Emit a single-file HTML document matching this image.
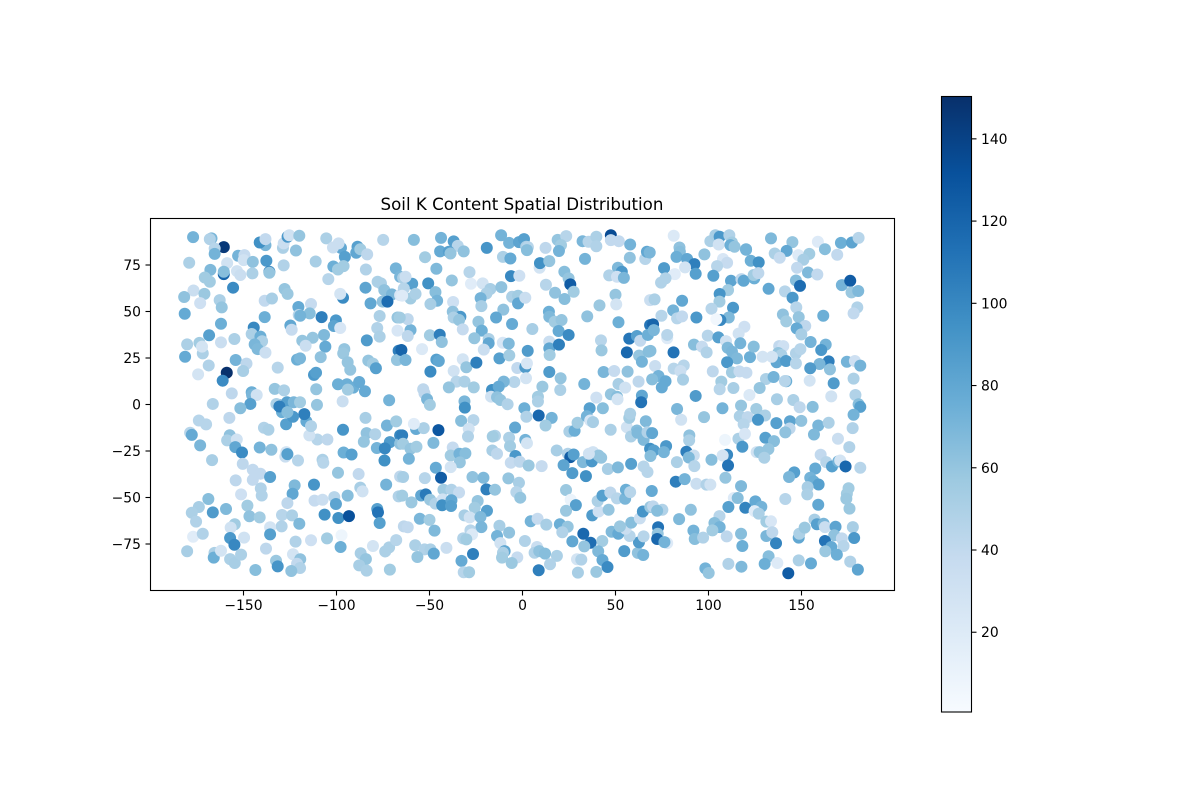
<!DOCTYPE html>
<html lang="en">
<head>
<meta charset="utf-8">
<title>Soil K Content Spatial Distribution</title>
<style>
html,body{margin:0;padding:0;background:#fff;}
svg{display:block;}
text{font-family:"DejaVu Sans","Liberation Sans",sans-serif;fill:#000;}
</style>
</head>
<body>
<svg id="chart" xmlns="http://www.w3.org/2000/svg" width="1200" height="800" viewBox="0 0 1200 800">
  <defs>
    <linearGradient id="blues" x1="0" y1="1" x2="0" y2="0">
      <stop offset="0" stop-color="#f7fbff"/>
      <stop offset="0.125" stop-color="#deebf7"/>
      <stop offset="0.25" stop-color="#c6dbef"/>
      <stop offset="0.375" stop-color="#9ecae1"/>
      <stop offset="0.5" stop-color="#6baed6"/>
      <stop offset="0.625" stop-color="#4292c6"/>
      <stop offset="0.75" stop-color="#2171b5"/>
      <stop offset="0.875" stop-color="#08519c"/>
      <stop offset="1" stop-color="#08306b"/>
    </linearGradient>
  </defs>
  <text x="522" y="210" font-size="16.67" text-anchor="middle">Soil K Content Spatial Distribution</text>
  <g id="points"></g>
  <rect x="150.5" y="218.5" width="744" height="372" fill="none" stroke="#000" stroke-width="1.1"/>
  <g id="xticks"></g>
  <g id="yticks"></g>
  <rect x="941.5" y="96.5" width="30" height="615.5" fill="url(#blues)" stroke="#000" stroke-width="1.1"/>
  <g id="cticks"></g>
</svg>
<script>
const xTickValues = [-150,-100,-50,0,50,100,150];
const yTickValues = [-75,-50,-25,0,25,50,75];
const colorbarTickValues = [20,40,60,80,100,120,140];
const kMin = 0.6;
const kMax = 150.3;

const lonA = [-177.1,-167.2,-168.1,-160.6,-165.5,-165.5,-179.2,-152.9,-149.5,-158.8,-149.9,-145,-137.7,-138.2,-141.3,-138.2,-128.8,-128.4,-126.3,-125.4,-120,-121.8,-128.4,-111.2,-105.5,-97.6,-101.9,-98.9,-88.7,-89.4,-87.2,-83.5,-95.5,-101.7,-96.2,-99.2,-84.2,-74.9,-68.1,-104.4,-167.8,-160.6,-160.6,-153.5,-151.7,-145.2,-136.1,-136.1,-170.8,-168.1,-155.6,-77.9,-76.1,-84.4,-74.3,-70.2,-65.8,-176.9,-181.9,
-171,-173.3,-162.8,-161.7,-181.6,-138.6,-134.7,-127.9,-126.3,-120.5,-113.7,-120.3,-114.4,-119.5,-138.6,-162.1,-108,-100.3,-101.4,-98,-96.5,-98,-81.7,-75.2,-72.6,-65.8,-76.8,-67.2,-78.1,-144.5,-145.6,-124.8,-124.1,-106.7,-168.5,-154.9,-140.9,-140,-144,-142.4,-138.2,-118.4,-112.8,-116.6,-83.7,-76.8,-67.2,-180.3,-173.7,-171.9,-162.1,-172.3,-181.4,-106,-95.8,-96.4,-108.5,-121.2,-119.6,-94,-92.6,-82.9,-80.4,-78.8,-66.6,-67.5,-154.2,-148.4,-150.2,-168.7,-131.6,-174.4,-159,-161.2,-112.1,-111,-99.2,-94.4,-91,-87.8,-93.9,-84.7,-110.9,-133.2,-128.2,-145.6,-145.4,-142.9,-156.3,-166.5,-146.3,-151.7,-96.7,-71.7,-131.1,-126.6,-123,-119.6,-110.5,-132.3];
const latA = [90,89.3,88.9,84.6,83.9,81,76.2,80,80.3,76,77.6,76.7,77.3,85.7,87.1,88.9,84.2,86.6,90.2,91,90.7,82.8,74.8,76.9,89.3,84.2,84.4,86.6,84.8,81.6,83.5,80.7,79.4,74.2,74.4,72.6,72.6,88.5,73.2,67.4,72.4,70.1,71.4,71.7,69.6,70.5,71.4,70.8,68.3,66,62.8,66,65.1,62.8,61.5,59.2,68.7,61.3,57.8,
59.5,54.5,56.1,52.2,48.8,55.8,57,62.1,59.5,52.4,54,48.1,49,47.7,47,43.4,47,45.2,42.2,41.1,57.4,59.5,54.4,55.3,55.3,58.8,47.6,46.8,41.1,41.3,37.9,42.5,40.2,37.4,37.2,35.2,36.5,34,32.3,29.8,27.9,34.3,35.9,31.6,34.5,36.5,39.7,32.3,33.1,27.5,33.4,31.1,25.7,31.1,29.8,27.5,25.5,24.1,24.8,22.7,18.7,23.6,22,19.5,28.9,23.9,23.9,22,18,21,19.8,16.2,17.1,12.8,15.9,17.1,10.9,10.9,9.1,12.1,8,7.1,8.2,8.4,7.6,6.6,5.1,5.1,6,0.3,0.3,-2,1.7,2.3,-0.2,1.2,1.2,1.2,-0.2,0.3];
const kA = [72,70,48,145,45,72,50,72,38,30,30,62,90,70,95,40,50,35,90,30,60,62,48,52,50,80,35,35,85,80,55,42,85,75,55,55,48,45,72,45,68,120,65,30,35,50,100,60,55,55,98,50,50,82,62,70,70,35,62,
58,32,50,60,78,40,52,60,58,78,38,45,65,72,75,75,105,90,82,25,98,28,80,62,115,25,50,60,48,100,50,80,38,68,85,50,75,50,70,68,33,60,60,35,88,50,25,50,55,50,35,28,78,78,60,58,62,75,70,60,60,60,55,85,105,60,72,42,52,48,45,28,150,98,90,85,75,75,75,78,55,78,60,60,50,75,70,30,42,48,85,65,35,72,90,85,70,55,60,50];

const lonB = [-58.4,-43.8,-37,-34.8,-44.3,-39.6,-38.7,-31.6,-52.4,-46.3,-19.2,-11.5,-7.2,-1.9,0.8,2,2.9,2.4,-10.5,-6.5,12.4,18.9,23.5,20.7,19.6,32.3,35.5,39.7,39.7,47.5,47.5,51.8,57.9,57.7,66,66.9,9.2,9.4,14.4,33.6,-28.5,-38,-27.7,-21.4,-50.7,-59.3,-64.2,-62.9,-46.8,-45.9,-49.5,-60.2,-57.5,-63.8,-64.7,-6.2,-1.7,22.5,24.8,25.7,27.5,12.6,17.5,22.6,51.3,53.4,46.6,50.8,54.5,-17.3,-19.4,-22.5,-22.1,-11.4,-5.6,-2.4,-2.4,1.5,-37.3,-37.5,-33.4,-37,-34.1,-10.3,-14.2,41.4,50,50.4,34.8,51.6,68.6,14.2,14.4,17.3,21,19.4,24.8,14.4,14.4,19.6,14.6,5.3,-5.6,-23.7,-32.1,-21.9,-25.9,-18.2,-18.2,-49.8,-44.5,-43.4,-60.2,-61.7,-66,-61.7,-54,-10.6,-7.4,-20.8,2.8,-12.4,-7.1,-65.1,-62.9,-46.3,-45,-32.1,-30.2,-24.8,-49.5,-37,-2.8,1.5,2.4,14.4,20.5,1.9,-4.4,-10.1,10.7,20.3,33.2,43.6,49.3,56.5,62.4,51.6,55.2,47.5,50.8,51.1,64.2,63.8,39.7,36.1,43.2,56.1,57.4,61.5,63.3,68.6,67.4,42.2,42.5,62.7,64.2,67.8,-35.5,-31.2,-39.6,-26.2,-53.4,-52.7,-51.3,-49.8,-31.2,-31,-16.4,-12.8,-16.9,-13.7,-11.9,-8,8.3,8.3,1];
const latB = [88.5,89.6,87.7,85.3,82.3,82.1,81.2,82.3,79.2,73,84.2,91,86.9,87.3,88.9,84.8,84.6,83,79.4,78.5,84.2,88.5,90.5,85.7,82.5,87.8,87.5,90.2,85.1,91,88.4,87.8,86,78.9,78.2,82.1,73.5,76,77.1,78.3,71.2,66.7,64.9,65.1,65.1,64.9,68.1,68.7,60.4,55.8,54,57,59.5,62.4,58.5,69,69.2,71.4,67.8,64.6,60.6,64.4,60.1,56.7,73.5,71.4,69.4,68.7,68.1,62.1,59.7,57.2,52.9,63.1,57.9,58.5,54.4,57.4,55.1,49.9,47.2,46.8,45.4,51,46.8,53.3,59,53.8,47.4,44.2,56.1,49.9,47.2,44.5,45.4,39.5,37.4,33.8,30.2,32.2,26.6,40.6,43.3,44.5,40.4,39.7,35.6,35.2,32.9,37.2,37.5,33.6,40,45.9,46.7,36.8,29.8,33.2,32.7,29.5,28.8,24.8,26.4,29.3,23.9,24.1,23.4,24.3,20,22.5,17.7,18,19.6,20,22.1,17.5,14.1,14.1,12.1,12.3,9.6,7.8,11,17.5,18,17.7,12.3,11,9.1,5.5,4.2,2.8,4.8,1.2,3.7,-2,-2,28,35.4,36.8,34.3,42.7,37.4,34.5,29.1,26.3,23,28.4,12.3,12.3,9.2,9.2,8.2,6,2.8,-0.2,1.7,-1.7,7.8,9.6,4.2,3.9,2.4,0.1,4.2,1.6,-2];
const kB = [65,72,85,45,78,85,60,62,55,68,92,72,72,82,85,50,45,65,50,78,42,60,45,55,72,70,45,50,48,135,40,40,72,62,45,80,28,95,60,72,45,60,18,28,95,85,50,35,65,72,52,55,50,45,20,100,32,65,60,125,55,45,62,65,68,90,48,32,70,52,50,72,52,62,50,55,80,35,32,62,90,50,60,62,80,58,60,28,62,75,35,75,68,55,60,78,98,35,80,105,55,52,78,60,38,75,60,50,80,55,105,62,72,42,55,42,22,25,68,35,88,85,55,120,70,85,80,28,60,105,98,30,40,88,25,88,60,28,45,70,58,50,72,70,38,62,42,52,30,60,65,28,80,112,32,85,65,118,110,85,40,110,75,45,58,60,72,65,45,50,60,55,42,42,70,55,70,95,95,78,30,62,60,48,55,50,75];

const lonC = [81.3,84.4,84.6,82.8,88.5,92.4,87.4,93.1,76.1,81.9,76.9,74.5,71,85.8,81,74.7,83.1,85.8,93.5,70.2,70.6,68.4,97.8,101,103.7,106,105.5,111.2,112.6,111.8,114,120.2,120.2,107.8,110,104.6,122.7,127,102.6,112.1,118.6,117.7,118.9,124.6,124.3,126.8,110.5,106,105.9,101.6,113.2,110.9,106.4,104.2,119.3,116.2,99.6,105.3,109.4,92.2,96.5,99,110.3,117.1,112.6,115.3,110,122.3,124.3,129.1,133.6,145.1,142,135.6,138.3,148.3,154.2,151,147.6,153.5,158.5,158.8,162.6,169.2,171.2,177.1,180.7,147,149.2,132.3,141.1,145.2,147.2,171.7,176.2,176.9,180.5,161.7,180,178,140,141.8,148.5,152,147.4,149.9,154.9,163,160.6,164.6,159.7,165.3,154.7,174.4,178.7,181.6,138,140.2,137.5,139.2,136.6,141.7,147,149.4,147,134.1,81.2,77.8,77.8,68.8,71.3,81.3,86.7,84.9,102.3,112.6,116.6,120.4,73.1,76.9,86.3,74.9,69.7,106.9,106,113.4,122,130.9,135,127.5,141.8,141.1,154.4,167.3,178,93.1,136.8,145.6,149,156,166,179,180.7,181.6,83.1,107.5,117.5,125.7];
const latC = [90.7,84.4,82.1,79.4,78.2,75.5,73.7,70.3,73.3,70.1,67.8,65.5,56.5,55.8,50.6,47.7,46.3,47.4,46.8,43.1,40,81.7,80.7,87.8,91,90.2,86,91,87.1,85.7,84.8,83.2,83.5,78.2,76.2,74.4,77.3,76.4,69.2,66.5,66.7,67.4,66.5,67.8,69.6,70.6,61.5,59.4,55.3,51.5,52,46.8,45.4,45.8,41.8,38.1,37,36.1,34.1,32.2,31.1,28,30.5,32.9,28.4,24.8,22.7,25.5,31.1,25.7,89.3,87.3,82.6,81.2,78.9,80.3,81,77.8,73.5,71,69.9,87.5,83.5,80.5,86.9,87.1,89.6,66.7,63.8,62.2,60.8,57.4,52.2,64.2,66.5,60.3,61,47.7,52.2,49,48.4,44.7,47,42.2,40.9,37.7,33.6,32.2,29.3,23.2,21.8,18.9,19.5,23,23.4,20.9,31.4,31.4,27.7,26.6,22.7,23.4,27.5,29.8,22.1,25.7,28,35.6,37.4,28.8,20.7,19.3,21,18,17.8,17.3,17.8,17.1,15.3,12.5,13.4,9.2,13.5,12.3,8.2,8.9,5.1,13.7,14.8,8.9,12.5,12.6,12.8,11.4,13.9,4.6,2.8,2.4,-1.5,-1.3,4.4,5.1,0.1,-1.3,-2.4,-2,-0.6,-2.4];
const kC = [22,62,65,75,80,105,28,85,88,18,48,48,50,80,72,45,45,40,90,120,70,70,62,50,52,90,30,48,55,75,60,75,72,25,38,45,75,95,85,82,60,42,80,75,55,42,55,92,55,45,90,68,100,5,32,30,45,85,30,65,38,48,68,72,70,68,90,75,65,28,68,60,80,50,38,20,55,52,40,68,40,20,65,40,75,82,45,65,115,80,45,90,45,72,125,58,68,75,48,40,62,55,60,42,78,52,72,72,90,105,70,62,88,72,32,72,40,32,60,50,80,88,48,45,45,28,112,20,45,65,35,45,45,35,42,55,38,38,72,78,52,78,65,55,45,52,22,50,72,60,75,45,28,88,50,88,52,50,42,65,30,48,65,85,70,72,60,55];

const lonD = [-174,-170.1,-178.7,-177.8,-173.3,-157.6,-157.4,-158.8,-153.6,-154.4,
-150.8,-166.9,-150.4,-139,-136.6,-141.3,-135,-127,-127.5,-126.4,
-120.7,-145,-140.9,-145,-154.2,-135.7,-151.3,-140.7,-140.2,-122.5,
-123.6,-112.1,-126.4,-168.9,-174,-177.8,-166.5,-159.4,-147.9,-175.5,
-146.8,-141.3,-129.3,-123.9,-120,-129.5,-154.7,-156.9,-135.7,-135.7,
-177.1,-171.9,-157.2,-154.9,-149.7,-180.3,-165.6,-166,-162.1,-157.2,
-154.7,-151.3,-137.9,-122,-123.4,-119.5,-132.5,-131.6,-121.2,-119.6,
-124.3,-143.6,-113.7,-105.1,-97.3,-97.8,-80.4,-73.8,-71.7,-67.9,
-87,-84.2,-87.8,-83.8,-71.3,-111.8,-107.5,-101.2,-100.3,-94,
-106.4,-99,-93.3,-78.1,-77.7,-76.8,-88.1,-87.2,-86,-99.2,
-73.3,-65.8,-66.6,-107.5,-107.1,-96.2,-91.9,-96.5,-110.3,-104.9,
-114.6,-116.2,-113.7,-117.3,-127.1,-123.4,-129.3,-130.7,-126.4,-84.4,
-72.9,-67.9,-83.8,-79.2,-85.3,-78.3,-71.3,-74,-74.2,-65.8,
-65.8];
const latD = [-8.6,-10.7,-15.2,-16.3,-22,-7.2,-16.5,-19.3,-18.8,-22.9,
-25.8,-29.9,-31.9,-12.5,-13.6,-23.1,-24.3,-25.6,-28,-26.7,
-30.1,-35.1,-37.2,-40.5,-40.8,-39,-48.3,-45.1,-48.9,-43.5,
-48,-43.1,-53,-50.8,-55.1,-58.2,-58,-56.2,-54.4,-63,
-60.1,-60.7,-59.4,-59.6,-64.1,-65.5,-64.4,-66.2,-66,-69.8,
-71.1,-69.5,-71.8,-75.4,-71.6,-78.9,-79.8,-82.3,-78.6,-83.1,
-85.2,-80.7,-77.5,-73.7,-80.5,-83.2,-84,-87,-85.6,-87.9,
-89.5,-89,-73,-72,-70.3,-76.6,-76.1,-79,-76.8,-72.9,
-80,-83.1,-86.5,-89.3,-88.8,-51.7,-51.2,-49.8,-53.5,-49,
-59.2,-61,-60,-56.2,-58,-63.7,-37.4,-44.7,-46.7,-36.7,
-43.1,-38.7,-49.4,-29.7,-31.3,-25.8,-26.9,-13.6,-18.8,-18.8,
-16.6,-9.1,-11.6,-5.2,-10.6,-6.6,-4.1,-1.1,-4.1,-7.2,
-11.3,-9.1,-15.4,-16,-20,-23.4,-20.2,-23.6,-30.1,-16.6,
-21.1];
const kD = [45,45,45,78,70,42,62,50,30,80,
98,52,42,48,50,72,62,28,35,85,
45,40,40,40,42,85,32,48,48,68,
80,92,42,65,52,50,88,68,55,48,
62,55,45,50,68,48,55,30,28,85,
18,48,90,100,30,52,50,75,28,50,
52,50,42,48,28,62,58,92,40,48,
62,65,32,55,8,75,28,50,50,45,
52,60,52,50,55,38,35,45,82,65,
95,95,132,85,112,85,40,52,30,60,
72,42,48,50,45,75,85,92,45,42,
30,78,48,105,85,90,75,105,65,52,
72,55,62,48,60,72,88,100,95,100,
62];

const lonE = [2.1,8.7,15.7,12.4,-4,-33,-26.4,-28.9,-29.3,-57.2,
-53.1,-58.4,-45.2,-64.7,-64.2,-60.2,-57,-61.1,-47.9,-14.8,
-16,-7.2,1.5,2.4,-6.7,-16.2,-13.7,-3.8,-6.3,-1.5,
3.3,10.3,-37.5,-38.6,-33.9,-30.7,-33.7,-38.6,-46.6,-43.8,
-64.2,-52.5,-26.9,-21,-7.6,-1.9,-19.4,-14.8,-3.3,-1.2,
-42.5,-38.2,-34.1,-54.5,-52,-49.7,-46.8,-42.9,-43.2,-38.2,
-38.4,-64.7,-59.7,-24.1,-25.7,-19.1,-31.2,-28.4,-22.6,-22.1,
-55.2,-50,-47.3,-63.8,-61.7,-28,-31.9,-27.1,-30.2,-12.4,
-13.7,-7.2,-11.9,1.3,-57.7,-52.7,-49.5,-47.7,-40.9,-56.5,
-32.8,-26.6,-9.6,-10.5,-11,-2.8,-5.8,-31.6,-28.7,8.7,
7.8,6.5,9,12.1,18.5,14.8,4.4,8.1,12.8,20.1,
24.3,21.4,32.7,36.6,33.2,26.8,42.9,40.7,43,45.7,
54.7,62,64.9,62.6,65.1,57.6,47.9,51.5,55.4,52.4,
58.5,63.1,64.7,68.7,29.3,31.6,29.8,39.7,23.4,25.9,
28.7,23.4,37.5,40.9,46.3,40.4,43,47.2,50.8,55.2,
55.6,57.9,18.4,24.4,25.7,27.5,22.1,26.8,34.1,32.5,
37.3,37.9,40.9,42.3,35.7,45.9,51.3,58.4,65.1,67.2,
25.2,28,29.6,34.6,36.4,37.9,47.4,56.1,57.4,57.9,
66.3,61.5,58.3,61.8,65.1,67.2,68.6];
const latE = [-6.6,-5.9,-7.2,-11.3,-12.4,-8.8,-8.4,-13.1,-17.2,-13.2,
-12.7,-10.4,-13.8,-16.6,-21.1,-23.8,-22.7,-29.2,-20.6,-16.8,
-17.2,-17.9,-19,-20.8,-22.4,-24.7,-26.5,-27.7,-31.3,-30.8,
-32.8,-33.1,-23.1,-27.4,-26.5,-26.3,-31.1,-33.7,-34,-39.4,
-39,-39.6,-39,-39.4,-39.7,-42.1,-45.6,-45.8,-47.1,-50.1,
-45.8,-45.8,-47.3,-48.9,-48.3,-51.2,-53.3,-51,-54.2,-51.5,
-54.6,-49,-52.6,-51.9,-55.5,-57.1,-59.6,-60.7,-60.5,-65.9,
-61.4,-62,-67.8,-65.5,-66,-67.7,-72,-69.8,-72.5,-65.2,
-70.7,-68.9,-74.5,-73.4,-75.7,-77.9,-77.9,-80.2,-77.1,-82,
-84.1,-80.4,-78.8,-79.7,-82.3,-82.2,-85.2,-90.2,-90.2,-89.1,
-76.6,-79.7,-78.8,-80.2,-81.4,-85.9,-62.8,-61.4,-64.6,-64.4,
-65.7,-68.7,-69.5,-74.3,-76.3,-73.6,-73.4,-78.9,-83.6,-87.4,
-78.8,-79.8,-80.9,-74.1,-70.9,-70.7,-68.4,-69.5,-66.8,-65.5,
-63.5,-61.2,-57.5,-55.1,-83.2,-83.4,-90.4,-90,-46,-51.2,
-54.1,-57.1,-59.6,-57.5,-56.6,-51.9,-49,-47.3,-50.5,-50.7,
-45.8,-47.1,-24.7,-26.5,-28.3,-26.9,-32.6,-36.9,-38.5,-31,
-30.6,-25.6,-27.4,-28.6,-26.5,-34.7,-33.8,-31.9,-33.3,-36.3,
-14.5,-14.1,-9.8,-6.3,-8.6,-9.5,-13.6,-12.2,-7.2,-5,
-9,-14,-17.2,-15.2,-19,-14.9,-23.8];
const kE = [48,118,72,55,80,65,45,30,48,78,
50,18,128,105,55,60,55,72,68,48,
55,50,72,28,55,52,42,90,38,42,
58,38,38,55,72,65,60,28,78,125,
52,45,62,68,60,52,105,60,45,60,
55,48,38,80,108,58,48,30,95,80,
85,55,58,60,55,85,52,30,68,70,
70,55,68,42,40,45,48,22,55,52,
72,62,30,48,50,48,50,80,35,60,
78,105,80,50,55,38,58,45,55,105,
35,48,62,65,50,48,72,38,52,75,
60,48,118,115,60,80,55,68,78,98,
88,62,72,88,45,45,68,78,35,58,
65,35,92,58,28,48,52,58,58,10,
85,58,88,32,60,50,85,42,45,70,
75,45,52,48,125,85,82,88,95,68,
90,30,60,60,30,52,68,85,45,45,
50,75,55,72,25,52,50,30,55,50,
68,65,50,68,68,48,95];

const lonF = [85.3,97.6,116.8,121.1,130.4,126.6,118.9,136.5,143.8,149.9,
143.6,141.3,159,164.6,156.7,178,177.5,169.6,175.7,69.7,
89.7,89.6,108.9,116.1,119.6,118.2,130.6,135.2,132.2,125.9,
127.5,130,70.6,77.2,76,68.8,83,88.1,92.1,89.4,
92.4,101.6,110,107.6,110.5,160.3,163.3,166.4,169.8,170.8,
173.7,181.6,157.4,146.1,143.3,154.7,156.5,159.2,153.3,153.1,
175.3,174.4,174.1,175.8,82.4,87.2,93.5,98.9,101,109.1,
117.5,69.5,141.3,159,113.6,115.7,125.2,128.4,110.7,119.8,
124.8,127,70.2,75.2,72.4,90.5,84.2,105.9,103.2,106,
102.1,72.9,72.7,72.4,77.8,76.3,91.9,92.6,97.1,109.8,
117.5,118.2,131.1,133.6,131.1,134.3,136.3,148.5,148.8,151.7,
157,158.3,161.9,162.6,168.3,167.6,171.7,172.6,177.6,178.3,
162.6,166,162.8,169,132.3,130.2,137,148.5,155.1,176.2,
180.3,142.9,98.3,100.1,110.7,117.7];
const latF = [-8.2,-6.8,-6.3,-6.8,-5.9,-8.2,-10.6,-10,-9,-8.8,
-12.9,-15,-11.3,-9.8,-16.1,-5.5,-12.7,-18.4,-22.9,-15.4,
-16.6,-19.3,-19,-18.4,-15.8,-22.7,-17.9,-19.7,-24,-25.6,
-25.6,-28.6,-24.7,-22.4,-25.6,-27.7,-31,-25.4,-27.4,-28.5,
-33.1,-29.7,-27,-27.4,-32.8,-27,-31,-33.3,-30.6,-30.1,
-33.3,-34,-34.4,-36.5,-39,-39.4,-41.3,-43,-44.4,-48.3,
-45,-48,-50.7,-56,-41.5,-40.1,-42.6,-43.1,-43.1,-39.4,
-43.9,-46.5,-50.8,-53.9,-50.3,-50.3,-52.1,-55,-55.1,-55.5,
-57.3,-58.7,-54.8,-56.6,-57.1,-56.6,-61.6,-60,-63.7,-65.9,
-67.7,-66,-69.5,-72.3,-74.5,-74,-67.8,-72.3,-71.6,-70.9,
-69.5,-76.1,-63,-62.8,-70.7,-68.7,-74.6,-71.6,-69.5,-66.2,
-61.9,-64.4,-64.1,-65.9,-65.7,-70.3,-72,-76.1,-65.9,-71.8,
-73.4,-76.6,-78.9,-80.7,-81.6,-85.7,-85.2,-83.8,-85.4,-84.5,
-88.8,-90.7,-88.1,-90.6,-85.7,-87.2];
const kF = [30,60,50,42,50,92,45,85,82,62,
42,62,70,50,68,72,48,35,48,80,
62,50,8,50,25,90,85,65,60,30,
60,50,85,90,72,65,50,105,35,68,
45,65,100,28,112,40,45,85,72,28,
118,45,78,85,70,72,75,85,52,50,
55,55,58,58,105,72,35,48,30,60,
68,78,45,80,20,65,78,72,85,102,
18,50,42,48,65,62,68,45,65,72,
55,112,60,118,20,72,72,65,48,42,
65,75,55,25,70,42,102,80,50,58,
52,85,70,35,82,62,40,45,52,90,
112,78,58,75,65,75,20,50,78,48,
82,125,72,60,48,68];

const lons = [].concat(lonA, lonB, lonC, lonD, lonE, lonF);
const lats = [].concat(latA, latB, latC, latD, latE, latF);
const kValues = [].concat(kA, kB, kC, kD, kE, kF);

const SVG_NS = 'http://www.w3.org/2000/svg';
const bluesRamp = [[247,251,255],[222,235,247],[198,219,239],[158,202,225],[107,174,214],[66,146,198],[33,113,181],[8,81,156],[8,48,107]];
function xScale(v){ return 522.5 + v * 1.86; }
function yScale(v){ return 404.5 - v * 1.86; }
function colorbarScale(v){ return 712 - (v - kMin) / (kMax - kMin) * 615.5; }
function colorFor(v){
  const t = Math.max(0, Math.min(1, (v - kMin) / (kMax - kMin))) * (bluesRamp.length - 1);
  const i = Math.min(bluesRamp.length - 2, Math.floor(t));
  const f = t - i;
  const a = bluesRamp[i], b = bluesRamp[i + 1];
  return 'rgb(' + [0,1,2].map(function(c){ return Math.round(a[c] + (b[c] - a[c]) * f); }).join(',') + ')';
}
function make(tag, parent){
  const el = document.createElementNS(SVG_NS, tag);
  parent.appendChild(el);
  return el;
}
const pointsGroup = document.getElementById('points');
const pointCount = Math.min(lons.length, lats.length, kValues.length);
for (let i = 0; i < pointCount; i++) {
  const c = make('circle', pointsGroup);
  
  
  c.setAttribute('cx', xScale(lons[i]).toFixed(2));
  c.setAttribute('cy', yScale(lats[i]).toFixed(2));
  c.setAttribute('r', '6');
  c.setAttribute('fill', colorFor(kValues[i]));
}
function label(v){ return String(v).replace('-', '\u2212'); }
const xGroup = document.getElementById('xticks');
xTickValues.forEach(function(v){
  const line = make('line', xGroup);
  
  
  line.setAttribute('x1', xScale(v));
  line.setAttribute('x2', xScale(v));
  line.setAttribute('y1', 590.5);
  line.setAttribute('y2', 595.5);
  line.setAttribute('stroke', '#000');
  line.setAttribute('stroke-width', '1.1');
  const t = make('text', xGroup);
  
  
  t.setAttribute('x', xScale(v));
  t.setAttribute('y', 610);
  t.setAttribute('font-size', '13.9');
  t.setAttribute('text-anchor', 'middle');
  t.textContent = label(v);
});
const yGroup = document.getElementById('yticks');
yTickValues.forEach(function(v){
  const line = make('line', yGroup);
  
  
  line.setAttribute('x1', 145.5);
  line.setAttribute('x2', 150.5);
  line.setAttribute('y1', yScale(v));
  line.setAttribute('y2', yScale(v));
  line.setAttribute('stroke', '#000');
  line.setAttribute('stroke-width', '1.1');
  const t = make('text', yGroup);
  
  
  t.setAttribute('x', 141);
  t.setAttribute('y', yScale(v) + 5);
  t.setAttribute('font-size', '13.9');
  t.setAttribute('text-anchor', 'end');
  t.textContent = label(v);
});
const cGroup = document.getElementById('cticks');
colorbarTickValues.forEach(function(v){
  const line = make('line', cGroup);
  
  
  line.setAttribute('x1', 971.5);
  line.setAttribute('x2', 976.5);
  line.setAttribute('y1', colorbarScale(v));
  line.setAttribute('y2', colorbarScale(v));
  line.setAttribute('stroke', '#000');
  line.setAttribute('stroke-width', '1.1');
  const t = make('text', cGroup);
  
  
  t.setAttribute('x', 981);
  t.setAttribute('y', colorbarScale(v) + 5);
  t.setAttribute('font-size', '13.9');
  t.textContent = label(v);
});
</script>
</body>
</html>
